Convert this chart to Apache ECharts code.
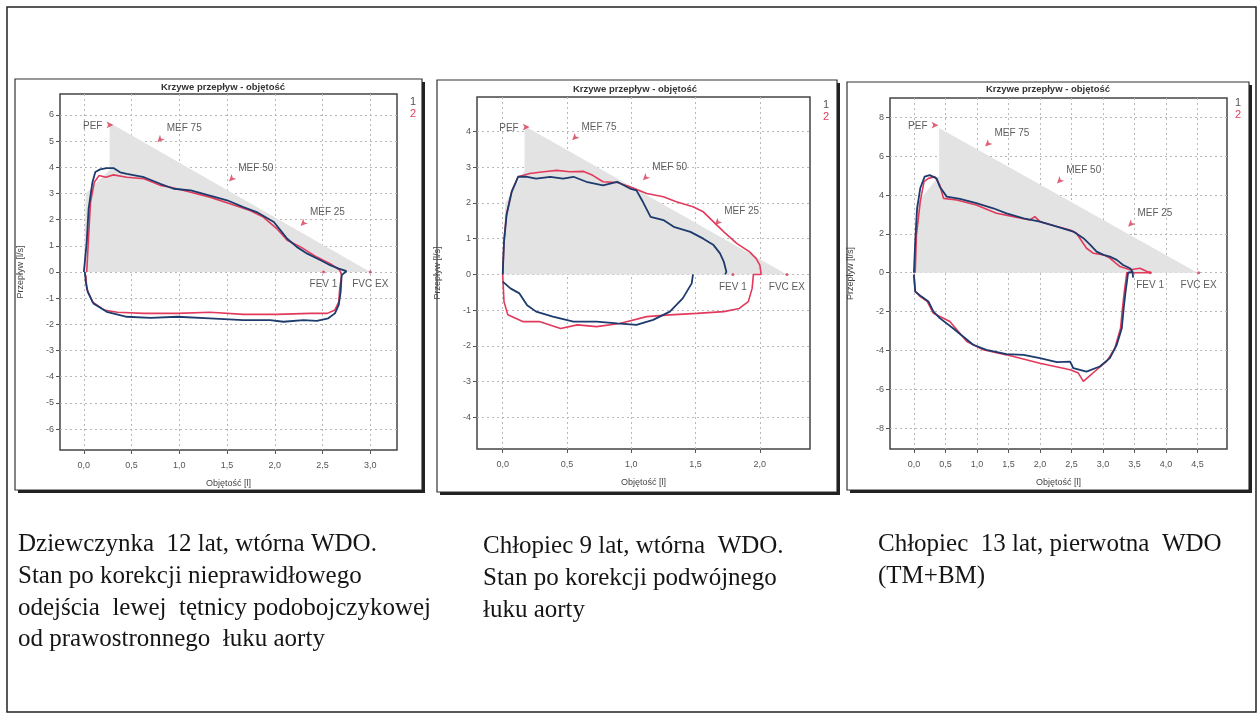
<!DOCTYPE html>
<html>
<head>
<meta charset="utf-8">
<script src="https://cdn.jsdelivr.net/npm/echarts@6/dist/echarts.min.js"></script>
<style>
html,body{margin:0;padding:0;background:#fff;}
#chart{width:1257px;height:713px;}
</style>
</head>
<body>
<div id="chart"></div>
<script>
// ---------- DATA ----------
// Panel 1 : volume [l], flow [l/s]
const p1Curve1 = [[0.0,0],[0.03,1.15],[0.05,2.42],[0.09,3.43],[0.12,3.82],[0.17,3.92],[0.24,3.97],[0.31,3.97],[0.38,3.81],[0.45,3.75],[0.63,3.62],[0.80,3.37],[0.94,3.18],[1.12,3.12],[1.32,2.92],[1.50,2.74],[1.67,2.48],[1.81,2.29],[1.99,1.91],[2.06,1.59],[2.13,1.27],[2.23,0.96],[2.34,0.70],[2.48,0.45],[2.58,0.26],[2.67,0.13],[2.72,0.07],[2.75,0.03],[2.77,0.05],[2.76,-0.02],[2.70,-0.12],[2.69,-0.76],[2.67,-1.26],[2.63,-1.58],[2.56,-1.77],[2.44,-1.87],[2.30,-1.84],[2.09,-1.90],[1.95,-1.84],[1.67,-1.84],[1.32,-1.77],[0.98,-1.71],[0.70,-1.75],[0.45,-1.71],[0.24,-1.52],[0.10,-1.20],[0.04,-0.76],[0.02,-0.38],[0.01,0]];
const p1Curve2 = [[0.03,0],[0.05,1.40],[0.07,2.67],[0.11,3.43],[0.16,3.69],[0.23,3.62],[0.31,3.71],[0.45,3.62],[0.63,3.56],[0.80,3.31],[0.91,3.24],[1.12,3.05],[1.32,2.86],[1.53,2.61],[1.74,2.35],[1.88,2.10],[2.02,1.66],[2.13,1.21],[2.27,0.96],[2.44,0.57],[2.58,0.32],[2.68,0.07],[2.70,-0.12],[2.68,-0.63],[2.67,-1.14],[2.63,-1.45],[2.55,-1.58],[2.37,-1.58],[2.02,-1.62],[1.67,-1.62],[1.32,-1.54],[0.98,-1.58],[0.63,-1.58],[0.35,-1.54],[0.21,-1.45],[0.09,-1.14],[0.03,-0.63],[0.02,-0.12]];
const p1Pred = [[0,0],[0.02,3.0],[0.27,3.9],[0.27,5.7],[3.0,0]];
const p1Marks = [['PEF',0.31,5.62],['MEF 75',0.77,4.96],['MEF 50',1.52,3.46],['MEF 25',2.27,1.76],['FEV 1',2.51,0],['FVC EX',3.0,0]];
const p1XTicks = [0,0.5,1.0,1.5,2.0,2.5,3.0];
const p1YTicks = [-6,-5,-4,-3,-2,-1,0,1,2,3,4,5,6];

// Panel 2
const p2Curve1 = [[0,0],[0.01,0.91],[0.03,1.66],[0.07,2.31],[0.12,2.73],[0.19,2.73],[0.26,2.68],[0.37,2.73],[0.47,2.68],[0.55,2.73],[0.65,2.59],[0.78,2.49],[0.89,2.59],[0.99,2.40],[1.04,2.35],[1.09,2.03],[1.15,1.61],[1.25,1.52],[1.33,1.33],[1.46,1.19],[1.56,1.00],[1.64,0.82],[1.69,0.59],[1.72,0.35],[1.74,0.07],[1.73,0]];
const p2Curve1In = [[0,-0.20],[0.06,-0.39],[0.13,-0.53],[0.19,-0.86],[0.26,-1.04],[0.39,-1.18],[0.55,-1.32],[0.73,-1.32],[0.89,-1.37],[1.04,-1.41],[1.17,-1.27],[1.30,-1.04],[1.40,-0.67],[1.47,-0.25],[1.48,0]];
const p2Curve2 = [[0,0],[0.01,0.95],[0.03,1.70],[0.07,2.33],[0.12,2.73],[0.21,2.82],[0.32,2.87],[0.42,2.91],[0.52,2.87],[0.63,2.88],[0.70,2.77],[0.78,2.59],[0.89,2.57],[0.99,2.45],[1.12,2.26],[1.25,2.17],[1.35,2.03],[1.48,1.89],[1.56,1.75],[1.64,1.47],[1.72,1.19],[1.82,0.87],[1.92,0.63],[1.97,0.45],[2.00,0.26],[2.01,0],[1.95,0],[1.94,-0.39],[1.91,-0.76],[1.84,-0.95],[1.72,-1.04],[1.51,-1.09],[1.30,-1.13],[1.12,-1.18],[0.91,-1.37],[0.73,-1.46],[0.58,-1.41],[0.45,-1.51],[0.29,-1.32],[0.16,-1.32],[0.04,-1.13],[0.01,-0.76],[0,0]];
const p2Pred = [[0,0],[0.02,2.0],[0.17,2.9],[0.17,4.15],[2.21,0]];
const p2Marks = [['PEF',0.21,4.12],['MEF 75',0.54,3.75],['MEF 50',1.09,2.63],['MEF 25',1.65,1.38],['FEV 1',1.79,0],['FVC EX',2.21,0]];
const p2XTicks = [0,0.5,1.0,1.5,2.0];
const p2YTicks = [-4,-3,-2,-1,0,1,2,3,4];

// Panel 3
const p3Curve1 = [[0,0],[0.02,1.6],[0.05,3.3],[0.10,4.35],[0.17,4.95],[0.25,5.03],[0.36,4.86],[0.41,4.43],[0.52,3.92],[0.73,3.80],[0.99,3.58],[1.26,3.32],[1.47,3.06],[1.74,2.80],[2.00,2.63],[2.27,2.38],[2.53,2.12],[2.69,1.78],[2.80,1.43],[2.90,1.09],[3.01,0.92],[3.11,0.83],[3.22,0.66],[3.32,0.40],[3.43,0.23],[3.47,0.06],[3.48,-0.25],[3.47,0.05],[3.40,0],[3.36,-0.97],[3.33,-1.83],[3.30,-2.86],[3.22,-3.71],[3.11,-4.40],[2.95,-4.83],[2.74,-5.09],[2.53,-4.92],[2.48,-4.58],[2.27,-4.61],[2.00,-4.40],[1.74,-4.23],[1.47,-4.19],[1.15,-3.97],[0.94,-3.71],[0.62,-2.86],[0.41,-2.34],[0.31,-2.0],[0.23,-1.48],[0.12,-1.23],[0.02,-0.97],[0,-0.1]];
const p3Curve2 = [[0.02,0],[0.04,1.95],[0.10,3.66],[0.16,4.69],[0.23,4.86],[0.33,4.95],[0.41,4.52],[0.47,3.83],[0.68,3.75],[0.99,3.49],[1.31,3.06],[1.58,2.89],[1.84,2.72],[1.92,2.89],[2.00,2.63],[2.27,2.38],[2.48,2.20],[2.58,2.03],[2.74,1.26],[2.85,1.00],[3.01,0.92],[3.11,0.75],[3.27,0.32],[3.43,0.15],[3.59,0.23],[3.70,0.06],[3.77,0],[3.38,0],[3.34,-0.97],[3.31,-1.83],[3.28,-2.86],[3.19,-3.88],[3.06,-4.57],[2.93,-4.92],[2.78,-5.34],[2.69,-5.60],[2.61,-5.17],[2.48,-5.0],[2.00,-4.66],[1.47,-4.23],[1.10,-3.97],[0.84,-3.54],[0.57,-2.51],[0.31,-2.09],[0.21,-1.48],[0.10,-1.23],[0.02,-0.97],[0,-0.1]];
const p3Pred = [[0,0],[0.03,3.5],[0.40,5.0],[0.40,7.45],[4.50,0]];
const p3Marks = [['PEF',0.39,7.6],['MEF 75',1.13,6.5],['MEF 50',2.27,4.6],['MEF 25',3.40,2.37],['FEV 1',3.75,0],['FVC EX',4.52,0]];
const p3XTicks = [0,0.5,1.0,1.5,2.0,2.5,3.0,3.5,4.0,4.5];
const p3YTicks = [-8,-6,-4,-2,0,2,4,6,8];

const chartTitle = 'Krzywe przepływ - objętość';
const xName = 'Objętość [l]';
const yName = 'Przepływ [l/s]';
const seriesNames = ['1','2'];

const captions = [
  ['Dziewczynka  12 lat, wtórna WDO.','Stan po korekcji nieprawidłowego','odejścia  lewej  tętnicy podobojczykowej','od prawostronnego  łuku aorty'],
  ['Chłopiec 9 lat, wtórna  WDO.','Stan po korekcji podwójnego','łuku aorty'],
  ['Chłopiec  13 lat, pierwotna  WDO','(TM+BM)']
];

// ---------- LAYOUT ----------
const BLUE = '#1d3b6c', RED = '#e23a5c';
const SANS = '"Liberation Sans", Arial, sans-serif';
const SERIF = '"Liberation Serif", "Times New Roman", serif';

const panels = [
  {grid:{left:60,top:94,width:337,height:356}, xr:[-0.25,3.28], yr:[-6.8,6.8], xt:p1XTicks, yt:p1YTicks,
   c1:[p1Curve1], c2:[p1Curve2], pred:p1Pred, marks:p1Marks, frame:[15,79,407,411], titleX:223, titleY:88, legX:405, legY:96},
  {grid:{left:477,top:97,width:333,height:352}, xr:[-0.2,2.39], yr:[-4.88,4.96], xt:p2XTicks, yt:p2YTicks,
   c1:[p2Curve1,p2Curve1In], c2:[p2Curve2], pred:p2Pred, marks:p2Marks, frame:[437,80,400,412], titleX:635, titleY:90, legX:818, legY:99},
  {grid:{left:890,top:98,width:337,height:351}, xr:[-0.38,4.97], yr:[-9.08,9.0], xt:p3XTicks, yt:p3YTicks,
   c1:[p3Curve1], c2:[p3Curve2], pred:p3Pred, marks:p3Marks, frame:[847,82,402,408], titleX:1048, titleY:90, legX:1230, legY:97}
];

const grids=[], xAxes=[], yAxes=[], series=[], titles=[], legends=[], graphics=[];
const fmt = v => v.toFixed(1).replace('.', ',');

graphics.push({type:'rect', shape:{x:7,y:7,width:1249,height:705}, style:{fill:'none', stroke:'#222', lineWidth:1.5}, z:0});

panels.forEach((p,i)=>{
  grids.push(Object.assign({show:true, borderColor:'#444', borderWidth:1.5, backgroundColor:'#fff', containLabel:false}, p.grid));
  xAxes.push({gridIndex:i, type:'value', min:p.xr[0], max:p.xr[1], splitNumber:10,
    axisLine:{show:false, onZero:false},
    axisTick:{show:true, customValues:p.xt, length:4, lineStyle:{color:'#555'}},
    axisLabel:{customValues:p.xt, formatter:fmt, fontSize:9, color:'#555', margin:11, fontFamily:SANS},
    splitLine:{show:true, lineStyle:{type:[2,3], color:'#b8b8b8', width:1}},
    name:xName, nameLocation:'middle', nameGap:29, nameTextStyle:{fontSize:9, color:'#444', fontFamily:SANS}});
  yAxes.push({gridIndex:i, type:'value', min:p.yr[0], max:p.yr[1], splitNumber:14,
    axisLine:{show:false, onZero:false},
    axisTick:{show:true, customValues:p.yt, length:4, lineStyle:{color:'#555'}},
    axisLabel:{customValues:p.yt, fontSize:9, color:'#555', margin:6, fontFamily:SANS},
    splitLine:{show:true, lineStyle:{type:[2,3], color:'#b8b8b8', width:1}},
    name:yName, nameLocation:'middle', nameGap:35, nameTextStyle:{fontSize:9, color:'#444', fontFamily:SANS}});
  // predicted area
  series.push({type:'line', name:'pred'+i, xAxisIndex:i, yAxisIndex:i, data:p.pred, showSymbol:false, symbol:'none',
    lineStyle:{width:0}, areaStyle:{color:'#e3e3e3', opacity:1}, z:1, silent:true});
  p.c2.forEach(d=>series.push({type:'line', name:'2', xAxisIndex:i, yAxisIndex:i, data:d, showSymbol:false, symbol:'none',
    lineStyle:{color:RED, width:1.6}, itemStyle:{color:RED}, z:3}));
  p.c1.forEach(d=>series.push({type:'line', name:'1', xAxisIndex:i, yAxisIndex:i, data:d, showSymbol:false, symbol:'none',
    lineStyle:{color:BLUE, width:1.8}, itemStyle:{color:BLUE}, z:4}));
  // annotation markers
  series.push({type:'scatter', name:'marks'+i, xAxisIndex:i, yAxisIndex:i, z:5, silent:true,
    data:p.marks.map(m=>{
      const nm=m[0];
      let sym='arrow', rot=135, size=[5,7], lab={position:'right', offset:[-3,-11]};
      if(nm==='PEF'){ rot=-90; lab={position:'left', offset:[1,1]}; }
      if(nm==='FEV 1' || nm==='FVC EX'){ sym='circle'; size=3; rot=0; lab={position:'bottom', distance:6}; }
      return {name:nm, value:[m[1],m[2]], symbol:sym, symbolRotate:rot, symbolSize:size, label:lab};
    }),
    itemStyle:{color:'#d63a55'},
    label:{show:true, formatter:'{b}', fontSize:10, color:'#333', fontFamily:SANS}});
  titles.push({text:chartTitle, left:p.titleX, top:p.titleY-6, textAlign:'center',
    textStyle:{fontSize:9.5, fontWeight:'bold', color:'#333', fontFamily:SANS}, padding:0});
  legends.push({orient:'vertical', left:p.legX, top:p.legY, icon:'none', itemWidth:0, itemHeight:0, itemGap:1, padding:0,
    data:[{name:'1', textStyle:{color:'#555'}},{name:'2', textStyle:{color:RED}}],
    textStyle:{fontSize:11, fontFamily:SANS, padding:0}, selectedMode:false});
  // panel frame with shadow
  const f=p.frame;
  graphics.push({type:'rect', shape:{x:f[0],y:f[1],width:f[2],height:f[3]}, style:{fill:'none', stroke:'#333', lineWidth:1.2}, z:0});
  graphics.push({type:'polyline', shape:{points:[[f[0]+3,f[1]+f[3]+1.5],[f[0]+f[2]+1.5,f[1]+f[3]+1.5],[f[0]+f[2]+1.5,f[1]+3]]}, style:{fill:'none', stroke:'#222', lineWidth:3}, z:0});
});

// captions
const capPos = [[18,529],[483,531],[878,529]];
captions.forEach((lines,i)=>{
  graphics.push({type:'text', left:capPos[i][0], top:capPos[i][1],
    style:{text:lines.join('\n'), font:'25px '+SERIF, lineHeight:31.6, fill:'#151515'}, z:2});
});

const chart = echarts.init(document.getElementById('chart'), null, {renderer:'canvas'});
chart.setOption({
  animation:false,
  backgroundColor:'#fff',
  title:titles,
  legend:legends,
  grid:grids,
  xAxis:xAxes,
  yAxis:yAxes,
  series:series,
  graphic:graphics
});
</script>
</body>
</html>
